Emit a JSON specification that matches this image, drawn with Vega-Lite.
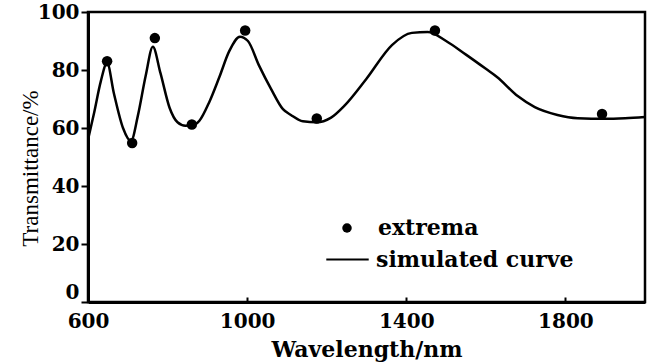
{
  "$schema": "https://vega.github.io/schema/vega-lite/v6.json",
  "autosize": {"type": "none"},
  "padding": {"left": 88, "top": 12, "right": 13, "bottom": 62},
  "width": 557,
  "height": 290,
  "background": "white",
  "config": {
    "view": {"stroke": "black", "strokeWidth": 2.5},
    "axis": {
      "grid": false,
      "domainColor": "black",
      "domainWidth": 3,
      "tickColor": "black",
      "tickWidth": 2,
      "labelColor": "black",
      "labelFont": "DejaVu Serif",
      "labelFontWeight": "bold",
      "labelFontSize": 20,
      "titleColor": "black",
      "format": "d"
    },
    "legend": {
      "labelFont": "DejaVu Serif",
      "labelFontWeight": "bold",
      "labelFontSize": 22,
      "labelColor": "black",
      "labelLimit": 0,
      "orient": "none"
    }
  },
  "datasets": {
    "curve": [
      {"wavelength": 600, "transmittance": 56, "series": "simulated curve"},
      {"wavelength": 615, "transmittance": 65, "series": "simulated curve"},
      {"wavelength": 632, "transmittance": 76, "series": "simulated curve"},
      {"wavelength": 648, "transmittance": 82.5, "series": "simulated curve"},
      {"wavelength": 665, "transmittance": 72, "series": "simulated curve"},
      {"wavelength": 688, "transmittance": 60, "series": "simulated curve"},
      {"wavelength": 708, "transmittance": 55.5, "series": "simulated curve"},
      {"wavelength": 725, "transmittance": 64, "series": "simulated curve"},
      {"wavelength": 745, "transmittance": 78, "series": "simulated curve"},
      {"wavelength": 763, "transmittance": 88, "series": "simulated curve"},
      {"wavelength": 782, "transmittance": 79, "series": "simulated curve"},
      {"wavelength": 805, "transmittance": 67, "series": "simulated curve"},
      {"wavelength": 825, "transmittance": 62, "series": "simulated curve"},
      {"wavelength": 845, "transmittance": 60.8, "series": "simulated curve"},
      {"wavelength": 865, "transmittance": 61, "series": "simulated curve"},
      {"wavelength": 880, "transmittance": 62.5, "series": "simulated curve"},
      {"wavelength": 905, "transmittance": 69, "series": "simulated curve"},
      {"wavelength": 930, "transmittance": 77.5, "series": "simulated curve"},
      {"wavelength": 955, "transmittance": 86.5, "series": "simulated curve"},
      {"wavelength": 982, "transmittance": 91.5, "series": "simulated curve"},
      {"wavelength": 1002, "transmittance": 90, "series": "simulated curve"},
      {"wavelength": 1030, "transmittance": 81.5, "series": "simulated curve"},
      {"wavelength": 1060, "transmittance": 73.5, "series": "simulated curve"},
      {"wavelength": 1090, "transmittance": 66.5, "series": "simulated curve"},
      {"wavelength": 1110, "transmittance": 64.5, "series": "simulated curve"},
      {"wavelength": 1140, "transmittance": 62.3, "series": "simulated curve"},
      {"wavelength": 1175, "transmittance": 62, "series": "simulated curve"},
      {"wavelength": 1210, "transmittance": 63.5, "series": "simulated curve"},
      {"wavelength": 1246, "transmittance": 67.9, "series": "simulated curve"},
      {"wavelength": 1300, "transmittance": 77, "series": "simulated curve"},
      {"wavelength": 1364, "transmittance": 88.6, "series": "simulated curve"},
      {"wavelength": 1414, "transmittance": 92.8, "series": "simulated curve"},
      {"wavelength": 1454, "transmittance": 93.1, "series": "simulated curve"},
      {"wavelength": 1500, "transmittance": 90, "series": "simulated curve"},
      {"wavelength": 1550, "transmittance": 85.3, "series": "simulated curve"},
      {"wavelength": 1600, "transmittance": 80.4, "series": "simulated curve"},
      {"wavelength": 1628, "transmittance": 77.6, "series": "simulated curve"},
      {"wavelength": 1680, "transmittance": 71, "series": "simulated curve"},
      {"wavelength": 1723, "transmittance": 67.2, "series": "simulated curve"},
      {"wavelength": 1780, "transmittance": 64.5, "series": "simulated curve"},
      {"wavelength": 1831, "transmittance": 63.4, "series": "simulated curve"},
      {"wavelength": 1900, "transmittance": 63.2, "series": "simulated curve"},
      {"wavelength": 1950, "transmittance": 63.4, "series": "simulated curve"},
      {"wavelength": 2000, "transmittance": 63.8, "series": "simulated curve"}
    ],
    "extrema": [
      {"wavelength": 648, "transmittance": 83, "series": "extrema"},
      {"wavelength": 711, "transmittance": 54.8, "series": "extrema"},
      {"wavelength": 768, "transmittance": 91, "series": "extrema"},
      {"wavelength": 861, "transmittance": 61.2, "series": "extrema"},
      {"wavelength": 995, "transmittance": 93.6, "series": "extrema"},
      {"wavelength": 1175, "transmittance": 63.3, "series": "extrema"},
      {"wavelength": 1472, "transmittance": 93.6, "series": "extrema"},
      {"wavelength": 1892, "transmittance": 64.8, "series": "extrema"}
    ]
  },
  "resolve": {"legend": {"color": "independent", "shape": "independent"}},
  "layer": [
    {
      "data": {"name": "curve"},
      "mark": {"type": "line", "interpolate": "monotone", "strokeWidth": 2.5, "clip": true},
      "encoding": {
        "x": {
          "field": "wavelength",
          "type": "quantitative",
          "scale": {"domain": [600, 2000], "nice": false},
          "axis": {
            "title": "Wavelength/nm",
            "titleFont": "DejaVu Serif",
            "titleFontWeight": "bold",
            "titleFontSize": 22,
            "titlePadding": 8,
            "values": [600, 1000, 1400, 1800],
            "labelFlush": false,
            "tickSize": -5,
            "labelPadding": 14
          }
        },
        "y": {
          "field": "transmittance",
          "type": "quantitative",
          "scale": {"domain": [0, 100], "nice": false},
          "axis": {
            "title": "Transmittance/%",
            "titleFont": "Liberation Serif",
            "titleFontWeight": "normal",
            "titleFontSize": 23,
            "titleX": -46,
            "titleY": 156,
            "values": [0, 20, 40, 60, 80, 100],
            "tickSize": 7,
            "labelPadding": 2,
            "labelBaseline": {"condition": {"test": "datum.value === 0", "value": "bottom"}, "value": "middle"}
          }
        },
        "color": {
          "field": "series",
          "type": "nominal",
          "scale": {"domain": ["simulated curve"], "range": ["black"]},
          "legend": {
            "title": null,
            "legendX": 237,
            "legendY": 225,
            "symbolType": "stroke",
            "symbolSize": 1800,
            "symbolStrokeWidth": 2,
            "labelOffset": 6
          }
        }
      }
    },
    {
      "data": {"name": "extrema"},
      "mark": {"type": "point", "filled": true, "size": 110, "opacity": 1},
      "encoding": {
        "x": {"field": "wavelength", "type": "quantitative"},
        "y": {"field": "transmittance", "type": "quantitative"},
        "fill": {"value": "black"},
        "shape": {
          "field": "series",
          "type": "nominal",
          "scale": {"domain": ["extrema"], "range": ["circle"]},
          "legend": {
            "title": null,
            "legendX": 248,
            "legendY": 205,
            "symbolFillColor": "black",
            "symbolStrokeColor": "black",
            "symbolSize": 90,
            "symbolOpacity": 1,
            "labelOffset": 20
          }
        }
      }
    }
  ]
}
